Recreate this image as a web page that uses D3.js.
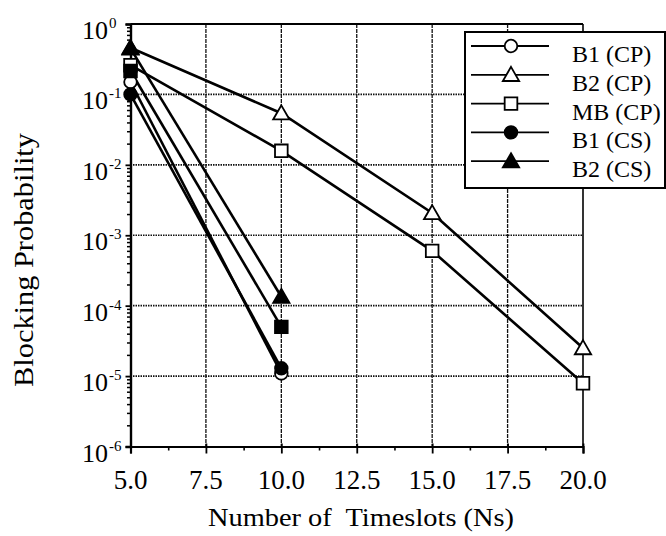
<!DOCTYPE html>
<html><head><meta charset="utf-8">
<script src="https://cdn.jsdelivr.net/npm/d3@7"></script>
<style>body{margin:0;background:#fff}svg{display:block}text{font-family:"Liberation Serif","Times New Roman",serif;fill:#000}</style>
</head><body><svg id="c" width="666" height="536"></svg>
<script>
const xTicks = [5.0, 7.5, 10.0, 12.5, 15.0, 17.5, 20.0];
const xMinor = [6.25, 8.75, 11.25, 13.75, 16.25, 18.75];
const yExponents = [0, -1, -2, -3, -4, -5, -6];
const b1CP = [[5, 0.15], [10, 1.09e-5]];
const b2CP = [[5, 0.46], [10, 0.054], [15, 2.07e-3], [20, 2.5e-5]];
const mbCP = [[5, 0.26], [10, 0.0158], [15, 6.0e-4], [20, 7.9e-6]];
const b1CS = [[5, 0.10], [10, 1.29e-5]];
const b2CS = [[5, 0.45], [10, 1.34e-4]];
const mbCS = [[5, 0.215], [10, 5.0e-5]];
const legendLabels = ["B1 (CP)", "B2 (CP)", "MB (CP)", "B1 (CS)", "B2 (CS)"];

const svg = d3.select("#c");
const L = 130.5, R = 583, T = 24, B = 446.5;
const x = d3.scaleLinear().domain([5, 20]).range([L, R]);
const y = d3.scaleLog().domain([1e-6, 1]).range([B, T]);

// grid
const g = svg.append("g");
g.selectAll(".vg").data(xTicks.slice(1, -1)).join("line")
  .attr("x1", d => x(d)).attr("x2", d => x(d)).attr("y1", T).attr("y2", B)
  .attr("stroke", "#111").attr("stroke-width", 1.3).attr("stroke-dasharray", "4,1");
g.selectAll(".hg").data(yExponents.slice(1, -1)).join("line")
  .attr("x1", L).attr("x2", R).attr("y1", d => y(Math.pow(10, d))).attr("y2", d => y(Math.pow(10, d)))
  .attr("stroke", "#111").attr("stroke-width", 1.6).attr("stroke-dasharray", "1.5,1");
// frame top & right
g.append("line").attr("x1", L).attr("x2", R).attr("y1", y(1)).attr("y2", y(1)).attr("stroke", "#000").attr("stroke-width", 2);
g.append("line").attr("x1", R).attr("x2", R).attr("y1", T).attr("y2", B).attr("stroke", "#000").attr("stroke-width", 1.6);

// axes
const xa = svg.append("g").attr("transform", `translate(0,${B})`)
  .call(d3.axisBottom(x).tickValues(xTicks).tickSize(7).tickFormat(""));
xa.selectAll(".tick line").attr("y1", -3).attr("stroke-width", 1.8);
const xm = svg.append("g").attr("transform", `translate(0,${B})`)
  .call(d3.axisBottom(x).tickValues(xMinor).tickSize(4).tickFormat(""));
xm.selectAll(".tick line").attr("stroke-width", 1.6);
xm.select(".domain").remove();
xa.select(".domain").attr("stroke-width", 2.2);

const yMinorVals = [];
yExponents.slice(1).forEach(e => { for (let k = 2; k <= 9; k++) yMinorVals.push(k * Math.pow(10, e)); });
const ya = svg.append("g").attr("transform", `translate(${L},0)`)
  .call(d3.axisLeft(y).tickValues(yExponents.map(e => Math.pow(10, e))).tickSize(5).tickFormat(""));
ya.select(".domain").attr("stroke-width", 2.4);
ya.selectAll(".tick line").attr("stroke-width", 1.8);
const ym = svg.append("g").attr("transform", `translate(${L},0)`)
  .call(d3.axisLeft(y).tickValues(yMinorVals).tickSize(3.5).tickFormat(""));
ym.select(".domain").remove();
ym.selectAll(".tick line").attr("stroke-width", 1.5);

// x tick labels
svg.selectAll(".xl").data(xTicks).join("text")
  .attr("x", d => x(d)).attr("y", 489).attr("text-anchor", "middle")
  .attr("font-size", 27).text(d => d.toFixed(1));
// y tick labels
svg.selectAll(".yl").data(yExponents).join("text")
  .attr("x", 108).attr("y", d => y(Math.pow(10, d)) + 15).attr("text-anchor", "end")
  .attr("font-size", 26).text("10");
svg.selectAll(".ys").data(yExponents).join("text")
  .attr("x", 109).attr("y", d => y(Math.pow(10, d)) + 4).attr("font-size", 15)
  .text(d => d === 0 ? "0" : "-" + Math.abs(d));

// titles
svg.append("text").attr("x", 361).attr("y", 526).attr("text-anchor", "middle")
  .attr("font-size", 26).attr("textLength", 306).attr("lengthAdjust", "spacingAndGlyphs")
  .text("Number of\u00a0 Timeslots (Ns)");
svg.append("text").attr("transform", "translate(33,260) rotate(-90)").attr("text-anchor", "middle")
  .attr("font-size", 28).attr("textLength", 254).attr("lengthAdjust", "spacingAndGlyphs")
  .text("Blocking Probability");

// series
const line = d3.line().x(d => x(d[0])).y(d => y(d[1]));
const series = [
  {data: b1CP, shape: "circle", fill: "#fff"},
  {data: b2CP, shape: "triangle", fill: "#fff"},
  {data: mbCP, shape: "square", fill: "#fff"},
  {data: b1CS, shape: "circle", fill: "#000"},
  {data: b2CS, shape: "triangle", fill: "#000"},
  {data: mbCS, shape: "square", fill: "#000"}
];
series.forEach(s => {
  svg.append("path").datum(s.data).attr("d", line).attr("fill", "none")
    .attr("stroke", "#000").attr("stroke-width", 2.6);
});
const symSize = {circle: 125, triangle: 115, square: 160};
const symType = {circle: d3.symbolCircle, triangle: d3.symbolTriangle, square: d3.symbolSquare};
function marker(sel, s) {
  sel.append("path")
    .attr("d", d3.symbol().type(symType[s.shape]).size(symSize[s.shape]))
    .attr("fill", s.fill).attr("stroke", "#000").attr("stroke-width", 1.8);
}
series.forEach(s => {
  s.data.forEach(d => {
    const m = svg.append("g").attr("transform", `translate(${x(d[0])},${y(d[1]) + (s.shape === "triangle" ? 1.5 : 0)})`);
    marker(m, s);
  });
});

// legend
const lg = svg.append("g");
lg.append("rect").attr("x", 465).attr("y", 32).attr("width", 200).attr("height", 156)
  .attr("fill", "#fff").attr("stroke", "#000").attr("stroke-width", 2);
legendLabels.forEach((lab, i) => {
  const yy = 46 + i * 28.8;
  lg.append("line").attr("x1", 471).attr("x2", 549).attr("y1", yy).attr("y2", yy)
    .attr("stroke", "#000").attr("stroke-width", 1.8);
  const m = lg.append("g").attr("transform", `translate(511,${yy + (series[i].shape === "triangle" ? 1.5 : 0)})`);
  marker(m, series[i]);
  lg.append("text").attr("x", 572).attr("y", yy + 16).attr("font-size", 24).text(lab);
});
</script></body></html>
